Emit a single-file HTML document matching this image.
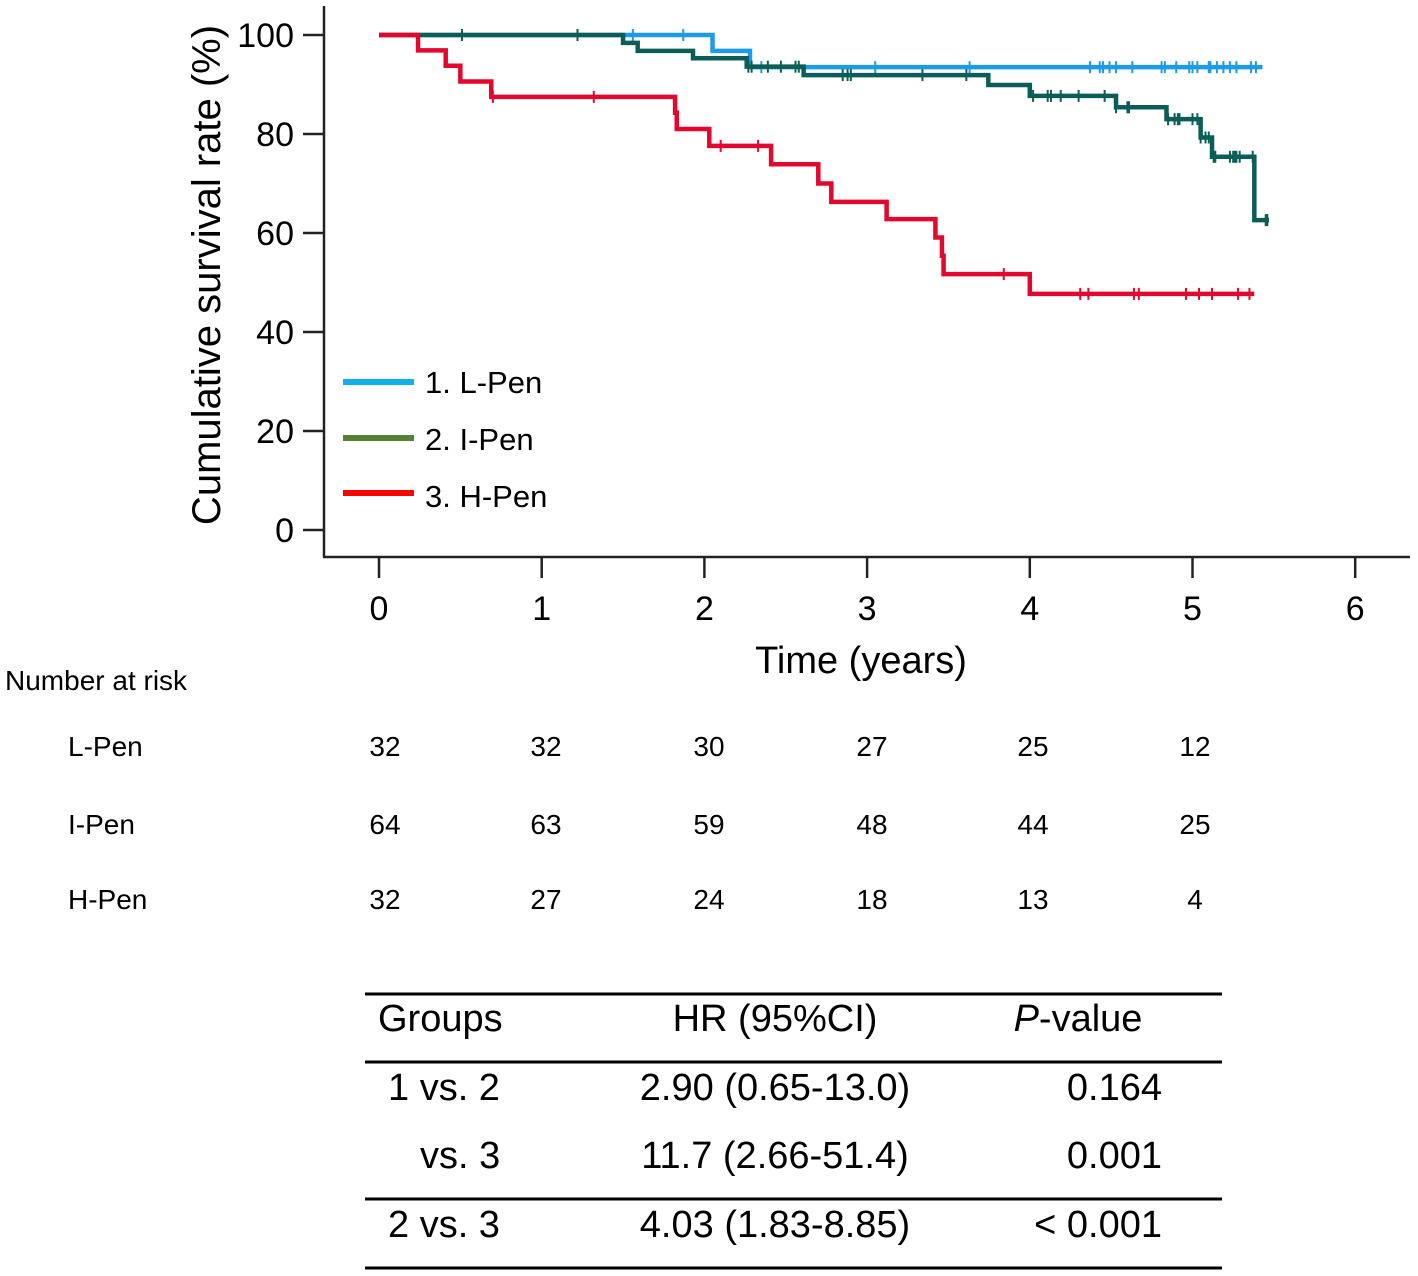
<!DOCTYPE html>
<html><head><meta charset="utf-8">
<style>
body{margin:0;background:#fff;width:1418px;height:1276px;overflow:hidden;font-family:"Liberation Sans",Arial,sans-serif;}
svg{display:block}
</style></head>
<body>
<svg id="chart" width="1418" height="1276" viewBox="0 0 1418 1276" xmlns="http://www.w3.org/2000/svg" font-family="Liberation Sans, Arial, sans-serif">
<g id="axes"></g>
<g id="series"></g>
<g>
 <line x1="343" y1="382" x2="414" y2="382" stroke="#12b0ea" stroke-width="6"/>
 <text x="425" y="393" font-size="31">1. L-Pen</text>
 <line x1="343" y1="438" x2="414" y2="438" stroke="#548235" stroke-width="6"/>
 <text x="425" y="450" font-size="31">2. I-Pen</text>
 <line x1="343" y1="493" x2="414" y2="493" stroke="#ff0000" stroke-width="6"/>
 <text x="425" y="507" font-size="31">3. H-Pen</text>
</g>
<text transform="translate(220,275) rotate(-90)" text-anchor="middle" font-size="40">Cumulative survival rate (%)</text>
<text x="861" y="673" text-anchor="middle" font-size="38">Time (years)</text>
<g id="risk">
 <text x="5" y="690" font-size="28">Number at risk</text>
</g>
<g font-size="38">
 <line x1="365" y1="994" x2="1222" y2="994" stroke="#000" stroke-width="3"/>
 <line x1="365" y1="1062" x2="1222" y2="1062" stroke="#000" stroke-width="3"/>
 <line x1="365" y1="1199" x2="1222" y2="1199" stroke="#000" stroke-width="3"/>
 <line x1="365" y1="1268" x2="1222" y2="1268" stroke="#000" stroke-width="3"/>
 <text x="378" y="1031">Groups</text>
 <text x="775" y="1031" text-anchor="middle">HR (95%CI)</text>
 <text x="1078" y="1031" text-anchor="middle"><tspan font-style="italic">P</tspan>-value</text>
 <text x="388" y="1100">1 vs. 2</text>
 <text x="775" y="1100" text-anchor="middle">2.90 (0.65-13.0)</text>
 <text x="1162" y="1100" text-anchor="end">0.164</text>
 <text x="420" y="1168">vs. 3</text>
 <text x="775" y="1168" text-anchor="middle">11.7 (2.66-51.4)</text>
 <text x="1162" y="1168" text-anchor="end">0.001</text>
 <text x="388" y="1237">2 vs. 3</text>
 <text x="775" y="1237" text-anchor="middle">4.03 (1.83-8.85)</text>
 <text x="1162" y="1237" text-anchor="end">&lt; 0.001</text>
</g>
</svg>
<script>
const xTicks=[0,1,2,3,4,5,6];
const yTicks=[0,20,40,60,80,100];
// step data: [time, survival after step]
const lPenSteps=[[0,100],[2.05,96.8],[2.28,93.5]];
const lPenEnd=5.43;
const lPenCensor=[1.56,1.87,2.35,3.05,3.63,4.37,4.43,4.45,4.49,4.53,4.63,4.81,4.83,4.90,4.98,5.00,5.03,5.10,5.11,5.15,5.19,5.23,5.27,5.36,5.39];
const iPenSteps=[[0,100],[1.50,98.4],[1.59,96.8],[1.93,95.3],[2.26,93.6],[2.61,91.9],[3.745,89.9],[4.00,87.7],[4.53,85.4],[4.84,83.0],[5.05,79.3],[5.12,75.4],[5.38,62.6]];
const iPenEnd=5.47;
const iPenCensor=[0.51,1.22,2.27,2.29,2.39,2.47,2.56,2.58,2.85,2.88,2.90,3.34,3.61,4.02,4.11,4.13,4.19,4.30,4.46,4.53,4.60,4.61,4.85,4.89,4.91,4.92,5.00,5.03,5.05,5.08,5.10,5.13,5.14,5.23,5.25,5.26,5.27,5.29,5.37,5.45,5.46];
const hPenSteps=[[0,100],[0.24,96.9],[0.41,93.8],[0.50,90.6],[0.69,87.5],[1.82,84.3],[1.83,81.0],[2.03,77.6],[2.41,73.9],[2.70,70.0],[2.78,66.3],[3.12,62.8],[3.42,59.1],[3.46,55.4],[3.47,51.7],[4.00,47.7]];
const hPenEnd=5.38;
const hPenCensor=[0.70,1.32,2.10,2.33,3.84,4.31,4.36,4.64,4.67,4.96,5.04,5.12,5.28,5.35];
const riskGroups=["L-Pen","I-Pen","H-Pen"];
const riskL=[32,32,30,27,25,12];
const riskI=[64,63,59,48,44,25];
const riskH=[32,27,24,18,13,4];

const NS="http://www.w3.org/2000/svg";
const X=t=>379+t*162.7;
const Y=s=>530-s*4.95;
function mk(tag,attrs,parent){const e=document.createElementNS(NS,tag);for(const k in attrs)e.setAttribute(k,attrs[k]);parent.appendChild(e);return e;}
const axes=document.getElementById('axes');
let a=mk('line',{x1:324,y1:6,x2:324,y2:557,stroke:'#222','stroke-width':2.5},axes);


a=mk('line',{x1:323,y1:557,x2:1410,y2:557,stroke:'#222','stroke-width':2.5},axes);


yTicks.forEach(v=>{
 const l=mk('line',{x1:303,y1:Y(v),x2:324,y2:Y(v),stroke:'#222','stroke-width':2.5},axes);
 
 
 const t=mk('text',{x:294,y:Y(v)+12,'text-anchor':'end','font-size':34},axes);
 
 
 t.textContent=v;
});
xTicks.forEach(v=>{
 const l=mk('line',{x1:X(v),y1:557,x2:X(v),y2:578,stroke:'#222','stroke-width':2.5},axes);
 
 
 const t=mk('text',{x:X(v),y:620,'text-anchor':'middle','font-size':34},axes);
 
 
 t.textContent=v;
});
const series=document.getElementById('series');
function survAt(steps,t){let s=100;for(const p of steps){if(p[0]<=t)s=p[1];}return s;}
function draw(steps,end,cens,color,name){
 let d='M'+X(0)+','+Y(steps[0][1]);
 for(let i=1;i<steps.length;i++){d+=' H'+X(steps[i][0])+' V'+Y(steps[i][1]);}
 d+=' H'+X(end);
 const p=mk('path',{d:d,fill:'none',stroke:color,'stroke-width':4.5},series);
 
 
 cens.forEach(c=>{
  const y=Y(survAt(steps,c));
  const m=mk('line',{x1:X(c),y1:y-6,x2:X(c),y2:y+6,stroke:color,'stroke-width':2},series);
  
  
 });
}
draw(lPenSteps,lPenEnd,lPenCensor,'#1c9be6','l-pen');
draw(iPenSteps,iPenEnd,iPenCensor,'#0b5e58','i-pen');
draw(hPenSteps,hPenEnd,hPenCensor,'#e3062d','h-pen');
const risk=document.getElementById('risk');
const riskCols=[385,546,709,872,1033,1195];
[riskL,riskI,riskH].forEach((arr,r)=>{
 const yy=[756,834,909][r];
 const lab=mk('text',{x:68,y:yy,'font-size':28},risk);
 
 
 lab.textContent=riskGroups[r];
 arr.forEach((v,i)=>{
  const t=mk('text',{x:riskCols[i],y:yy,'text-anchor':'middle','font-size':28},risk);
  
  
  t.textContent=v;
 });
});
</script>
</body></html>
